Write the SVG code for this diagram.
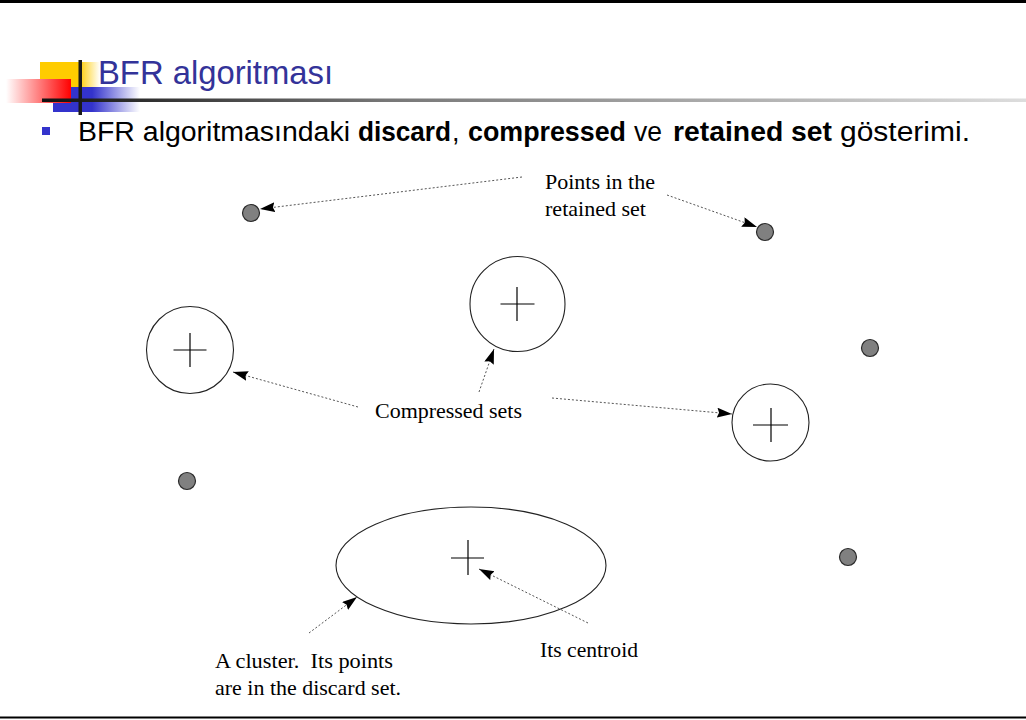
<svg xmlns="http://www.w3.org/2000/svg" width="1026" height="720" viewBox="0 0 1026 720">
<defs>
<linearGradient id="gYel" x1="0" y1="0" x2="1" y2="0"><stop offset="0" stop-color="#FFCC00"/><stop offset="0.65" stop-color="#FFCC00"/><stop offset="1" stop-color="#FFFFFF"/></linearGradient>
<linearGradient id="gRed" x1="0" y1="0" x2="1" y2="0"><stop offset="0" stop-color="#FFFFFF"/><stop offset="1" stop-color="#FF0000"/></linearGradient>
<linearGradient id="gBlue" x1="0" y1="0" x2="1" y2="0"><stop offset="0" stop-color="#3333CC"/><stop offset="0.45" stop-color="#3333CC"/><stop offset="1" stop-color="#FFFFFF"/></linearGradient>
<linearGradient id="gLine" gradientUnits="userSpaceOnUse" x1="42" y1="0" x2="1026" y2="0"><stop offset="0" stop-color="#111111"/><stop offset="0.35" stop-color="#777777"/><stop offset="1" stop-color="#DDDDDD"/></linearGradient>
<marker id="ah" markerUnits="userSpaceOnUse" markerWidth="17" markerHeight="11" refX="15" refY="5" orient="auto"><path d="M0,0 L15,5 L0,10 L2,5 z" fill="#000"/></marker>
</defs>
<style>
.dot{fill:#808080;stroke:#2a2a2a;stroke-width:1.2}
.cs{fill:none;stroke:#222;stroke-width:1.1}
.cr{stroke:#000;stroke-width:1.2}
.con{fill:none;stroke:#555;stroke-width:1;stroke-dasharray:2 2;marker-end:url(#ah)}
.lbl{font-family:"Liberation Serif","Times New Roman",serif;font-size:21.5px;fill:#000}
.bt{font-family:"Liberation Sans",Arial,sans-serif;font-size:27px;fill:#000}
.bb{font-weight:bold}
</style>
<rect x="0" y="0" width="1026" height="720" fill="#fff"/>
<rect x="0" y="0" width="1026" height="3" fill="#000"/>
<rect x="0" y="716.5" width="1026" height="2" fill="#000"/>

<g id="title">
<rect x="40" y="62" width="60" height="26" fill="url(#gYel)"/>
<rect x="53" y="87" width="87" height="25" fill="url(#gBlue)"/>
<rect x="6" y="79" width="65" height="24" fill="url(#gRed)"/>
<rect x="42" y="98.5" width="984" height="3.5" fill="url(#gLine)"/>
<rect x="78.5" y="60" width="3.5" height="55" fill="#1a1a1a"/>
<text x="98" y="84" font-family="'Liberation Sans',Arial,sans-serif" font-size="33" fill="#333399" textLength="235" lengthAdjust="spacingAndGlyphs">BFR algoritması</text>
</g>

<g id="bullet">
<rect x="42" y="127" width="8" height="8" fill="#3333CC"/>
<text class="bt" x="78" y="141" textLength="272" lengthAdjust="spacingAndGlyphs">BFR algoritmasındaki</text>
<text class="bt bb" x="358" y="141" textLength="93" lengthAdjust="spacingAndGlyphs">discard</text>
<text class="bt" x="452" y="141">,</text>
<text class="bt bb" x="468" y="141" textLength="158" lengthAdjust="spacingAndGlyphs">compressed</text>
<text class="bt" x="634" y="141" textLength="28" lengthAdjust="spacingAndGlyphs">ve</text>
<text class="bt bb" x="673" y="141" textLength="159" lengthAdjust="spacingAndGlyphs">retained set</text>
<text class="bt" x="840" y="141" textLength="130" lengthAdjust="spacingAndGlyphs">gösterimi.</text>
</g>

<g id="retained-points">
<circle class="dot" cx="251" cy="213" r="8.5"/>
<circle class="dot" cx="765" cy="232" r="8.5"/>
<circle class="dot" cx="870" cy="348" r="8.5"/>
<circle class="dot" cx="187" cy="481" r="8.5"/>
<circle class="dot" cx="848" cy="557" r="8.5"/>
</g>

<g id="cs-left">
<circle class="cs" cx="190" cy="350" r="43.5"/>
<line class="cr" x1="173.5" y1="350" x2="206.5" y2="350"/>
<line class="cr" x1="190" y1="333" x2="190" y2="367"/>
</g>
<g id="cs-top">
<circle class="cs" cx="517.5" cy="304" r="47.5"/>
<line class="cr" x1="500.5" y1="304" x2="534.5" y2="304"/>
<line class="cr" x1="517" y1="287" x2="517" y2="321"/>
</g>
<g id="cs-right">
<circle class="cs" cx="770.5" cy="422.5" r="38.5"/>
<line class="cr" x1="753" y1="425" x2="788" y2="425"/>
<line class="cr" x1="771" y1="408" x2="771" y2="442"/>
</g>
<g id="cluster">
<ellipse class="cs" cx="471" cy="565.5" rx="135" ry="58.5"/>
<line class="cr" x1="451" y1="558" x2="484" y2="558"/>
<line class="cr" x1="468" y1="540" x2="468" y2="575"/>
</g>

<g id="labels">
<text class="lbl" x="545" y="189" textLength="110" lengthAdjust="spacingAndGlyphs">Points in the</text>
<text class="lbl" x="545" y="216" textLength="101" lengthAdjust="spacingAndGlyphs">retained set</text>
<text class="lbl" x="375" y="418" textLength="147" lengthAdjust="spacingAndGlyphs">Compressed sets</text>
<text class="lbl" x="540" y="657" textLength="98" lengthAdjust="spacingAndGlyphs">Its centroid</text>
<text class="lbl" x="215" y="668" textLength="178" lengthAdjust="spacingAndGlyphs" xml:space="preserve">A cluster.  Its points</text>
<text class="lbl" x="215" y="695" textLength="186" lengthAdjust="spacingAndGlyphs">are in the discard set.</text>
</g>

<g id="connectors">
<line class="con" x1="522" y1="177" x2="260" y2="209"/>
<line class="con" x1="667" y1="195" x2="757" y2="227"/>
<line class="con" x1="358" y1="407" x2="233" y2="372"/>
<line class="con" x1="479" y1="392" x2="494" y2="349"/>
<line class="con" x1="552" y1="398" x2="732" y2="414"/>
<line class="con" x1="588" y1="623" x2="479" y2="569"/>
<line class="con" x1="309" y1="633" x2="357" y2="597"/>
</g>
</svg>
